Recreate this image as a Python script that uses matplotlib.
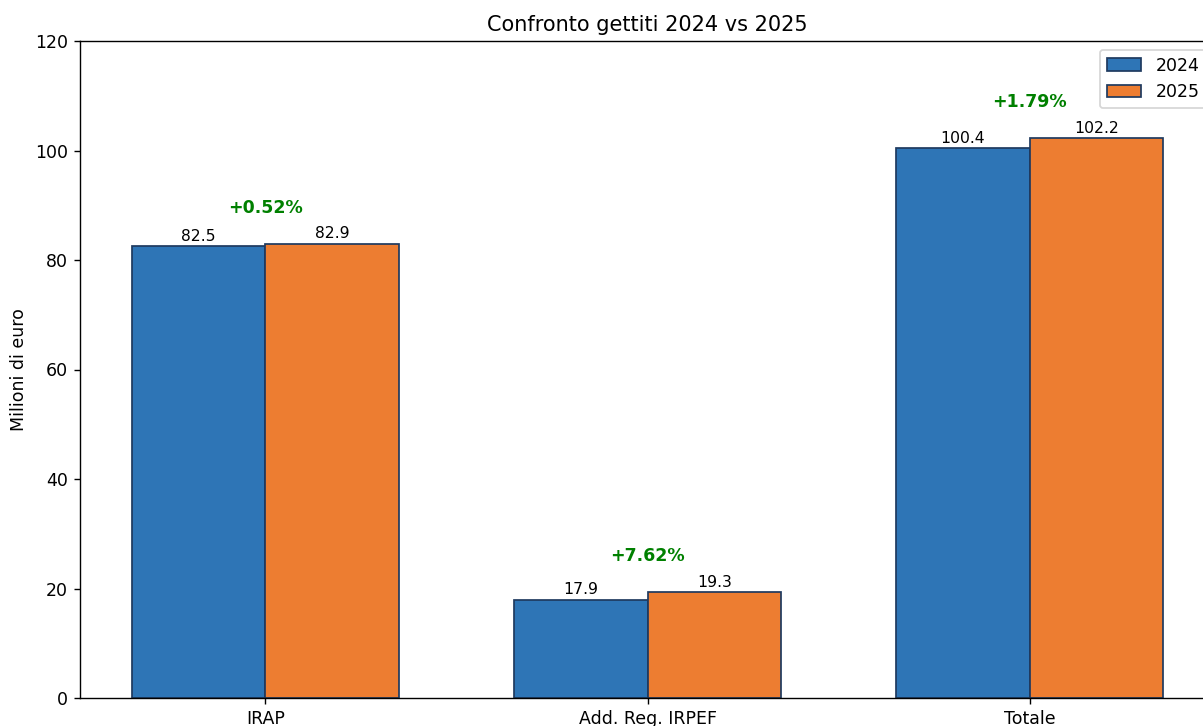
import numpy as np
import matplotlib
matplotlib.use("Agg")
import matplotlib.pyplot as plt

categorie = ["IRAP", "Add. Reg. IRPEF", "Totale"]
gettiti_2024 = [82.5, 17.9, 100.4]
gettiti_2025 = [82.9, 19.3, 102.2]
variazioni = ["+0.52%", "+7.62%", "+1.79%"]

dpi = 125
fig = plt.figure(figsize=(1203 / dpi, 726 / dpi), dpi=dpi)
ax = fig.add_axes([80 / 1203, 28 / 726, 1135 / 1203, 657 / 726])

x = np.arange(len(categorie))
w = 0.35
b1 = ax.bar(x - w / 2, gettiti_2024, w, label="2024", color="#2E75B6", edgecolor="#1F3A5F")
b2 = ax.bar(x + w / 2, gettiti_2025, w, label="2025", color="#ED7D31", edgecolor="#1F3A5F")

for rect, v in zip(b1, gettiti_2024):
    ax.text(rect.get_x() + rect.get_width() / 2, v + 0.5, f"{v:.1f}",
            ha="center", va="bottom", fontsize=9)
for rect, v in zip(b2, gettiti_2025):
    ax.text(rect.get_x() + rect.get_width() / 2, v + 0.5, f"{v:.1f}",
            ha="center", va="bottom", fontsize=9)

for i, txt in enumerate(variazioni):
    top = max(gettiti_2024[i], gettiti_2025[i])
    ax.text(x[i], top + 5, txt, ha="center", va="bottom",
            fontsize=10, fontweight="bold", color="green")

ax.set_xticks(x)
ax.set_xticklabels(categorie)
ax.set_ylim(0, 120)
ax.set_ylabel("Milioni di euro")
ax.set_title("Confronto gettiti 2024 vs 2025")
ax.legend(loc="upper right")

fig.savefig("out.png", dpi=dpi)
